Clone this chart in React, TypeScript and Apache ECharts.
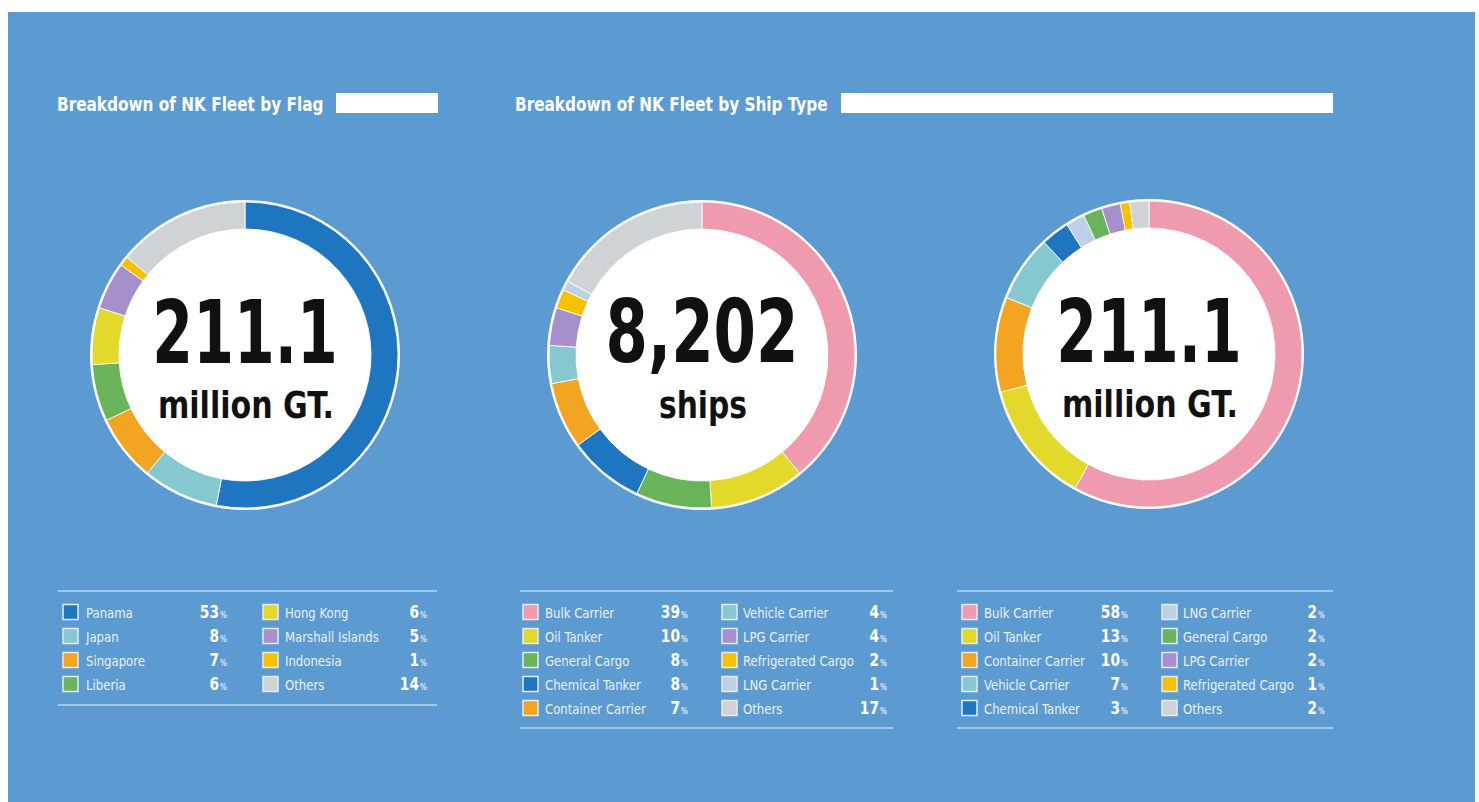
import React, { useEffect, useRef } from "react";
import * as echarts from "echarts";

// ---------- data ----------
const flagNames = ["Panama", "Japan", "Singapore", "Liberia", "Hong Kong", "Marshall Islands", "Indonesia", "Others"];
const flagValues = [53, 8, 7, 6, 6, 5, 1, 14];

const shipCountNames = ["Bulk Carrier", "Oil Tanker", "General Cargo", "Chemical Tanker", "Container Carrier", "Vehicle Carrier", "LPG Carrier", "Refrigerated Cargo", "LNG Carrier", "Others"];
const shipCountValues = [39, 10, 8, 8, 7, 4, 4, 2, 1, 17];

const shipGtNames = ["Bulk Carrier", "Oil Tanker", "Container Carrier", "Vehicle Carrier", "Chemical Tanker", "LNG Carrier", "General Cargo", "LPG Carrier", "Refrigerated Cargo", "Others"];
const shipGtValues = [58, 13, 10, 7, 3, 2, 2, 2, 1, 2];

const titles = ["Breakdown of NK Fleet by Flag", "Breakdown of NK Fleet by Ship Type"];
const centerBig = ["211.1", "8,202", "211.1"];
const centerSmall = ["million GT.", "ships", "million GT."];

// ---------- styles ----------
const COLORS: Record<string, string> = {
  Panama: "#1f76c0",
  Japan: "#86c8cf",
  Singapore: "#f3a522",
  Liberia: "#69b45a",
  "Hong Kong": "#e2d92b",
  "Marshall Islands": "#a68fca",
  Indonesia: "#f6c200",
  Others: "#d0d3d6",
  "Bulk Carrier": "#f09ab0",
  "Oil Tanker": "#e2d92b",
  "General Cargo": "#69b45a",
  "Chemical Tanker": "#1f76c0",
  "Container Carrier": "#f3a522",
  "Vehicle Carrier": "#86c8cf",
  "LPG Carrier": "#a68fca",
  "Refrigerated Cargo": "#f6c200",
  "LNG Carrier": "#bcd0e6",
};

const COND = "'Liberation Sans Narrow', 'DejaVu Sans Condensed', 'Arial Narrow', sans-serif";
const BG = "#5c9bd1";

const donuts = [
  { names: flagNames, values: flagValues, cx: 245, cy: 355, bigScale: 0.74, smallScale: 0.88 },
  { names: shipCountNames, values: shipCountValues, cx: 702, cy: 355, bigScale: 0.77, smallScale: 0.87 },
  { names: shipGtNames, values: shipGtValues, cx: 1149, cy: 354, bigScale: 0.74, smallScale: 0.88 },
];

const legends = [
  { x1: 58, x2: 437, top: 591, bottom: 705, perCol: 4, cols: [{ sw: 63, lab: 86, val: 219 }, { sw: 263, lab: 285, val: 419 }] },
  { x1: 520, x2: 893, top: 591, bottom: 728, perCol: 5, cols: [{ sw: 523, lab: 545, val: 680 }, { sw: 722, lab: 743, val: 879 }] },
  { x1: 957, x2: 1333, top: 591, bottom: 728, perCol: 5, cols: [{ sw: 962, lab: 984, val: 1120 }, { sw: 1162, lab: 1183, val: 1317 }] },
];

const R_OUT = 153;
const R_IN = 126;

export default function App() {
  const ref = useRef<HTMLDivElement>(null);

  useEffect(() => {
    if (!ref.current) return;
    const chart = echarts.init(ref.current, undefined, { renderer: "svg" });

    const graphic: any[] = [];
    // panel
    graphic.push({ type: "rect", z: 0, shape: { x: 8, y: 12, width: 1467, height: 790 }, style: { fill: BG } });

    // titles
    graphic.push({
      type: "text", z: 5, x: 57, y: 104, scaleX: 0.85,
      style: { text: titles[0], fill: "#ffffff", font: `bold 20px ${COND}`, verticalAlign: "middle", align: "left" },
    });
    graphic.push({ type: "rect", z: 5, shape: { x: 336, y: 93, width: 102, height: 20 }, style: { fill: "#ffffff" } });
    graphic.push({
      type: "text", z: 5, x: 515, y: 104, scaleX: 0.85,
      style: { text: titles[1], fill: "#ffffff", font: `bold 20px ${COND}`, verticalAlign: "middle", align: "left" },
    });
    graphic.push({ type: "rect", z: 5, shape: { x: 841, y: 93, width: 492, height: 20 }, style: { fill: "#ffffff" } });

    // donut backgrounds + center texts
    donuts.forEach((d, i) => {
      graphic.push({ type: "circle", z: 1, shape: { cx: d.cx, cy: d.cy, r: R_OUT + 2 }, style: { fill: "#ffffff" } });
      graphic.push({
        type: "text", z: 5, x: d.cx, y: d.cy - 23, scaleX: d.bigScale,
        style: { text: centerBig[i], fill: "#111111", font: `bold 88px ${COND}`, align: "center", verticalAlign: "middle" },
      });
      graphic.push({
        type: "text", z: 5, x: d.cx + 1, y: d.cy + 50, scaleX: d.smallScale,
        style: { text: centerSmall[i], fill: "#111111", font: `bold 38px ${COND}`, align: "center", verticalAlign: "middle" },
      });
    });

    // legends
    legends.forEach((lg, li) => {
      const d = donuts[li];
      graphic.push({ type: "line", z: 5, shape: { x1: lg.x1, y1: lg.top, x2: lg.x2, y2: lg.top }, style: { stroke: "#b9d6f0", lineWidth: 1.5 } });
      graphic.push({ type: "line", z: 5, shape: { x1: lg.x1, y1: lg.bottom, x2: lg.x2, y2: lg.bottom }, style: { stroke: "#b9d6f0", lineWidth: 1.5 } });
      d.names.forEach((name, k) => {
        const col = lg.cols[Math.floor(k / lg.perCol)];
        const row = k % lg.perCol;
        const y = 612 + row * 24;
        graphic.push({
          type: "rect", z: 5, shape: { x: col.sw, y: y - 7.5, width: 15, height: 15 },
          style: { fill: COLORS[name], stroke: "#e3ecf5", lineWidth: 1.5 },
        });
        graphic.push({
          type: "text", z: 5, x: col.lab, y: y + 1, scaleX: 0.93,
          style: { text: name, fill: "#e8f0f8", font: `14px ${COND}`, align: "left", verticalAlign: "middle" },
        });
        graphic.push({
          type: "text", z: 5, x: col.val, y: y, scaleX: 0.85,
          style: { text: String(d.values[k]), fill: "#ffffff", font: `bold 18px ${COND}`, align: "right", verticalAlign: "middle" },
        });
        graphic.push({
          type: "text", z: 5, x: col.val + 1, y: y + 3,
          style: { text: "%", fill: "#ffffff", font: `8px ${COND}`, align: "left", verticalAlign: "middle" },
        });
      });
    });

    const series = donuts.map((d) => ({
      type: "pie",
      z: 2,
      silent: true,
      radius: [R_IN, R_OUT],
      center: [d.cx, d.cy],
      startAngle: 90,
      clockwise: true,
      label: { show: false },
      labelLine: { show: false },
      itemStyle: { borderColor: "rgba(255,255,255,0.85)", borderWidth: 1 },
      data: d.names.map((n, k) => ({ name: n, value: d.values[k], itemStyle: { color: COLORS[n] } })),
    }));

    chart.setOption({
      animation: false,
      backgroundColor: "#ffffff",
      graphic,
      series,
    });

    return () => chart.dispose();
  }, []);

  return (
    <div
      ref={ref}
      style={{ position: "absolute", left: 0, top: 0, width: 1479, height: 802 }}
    />
  );
}
